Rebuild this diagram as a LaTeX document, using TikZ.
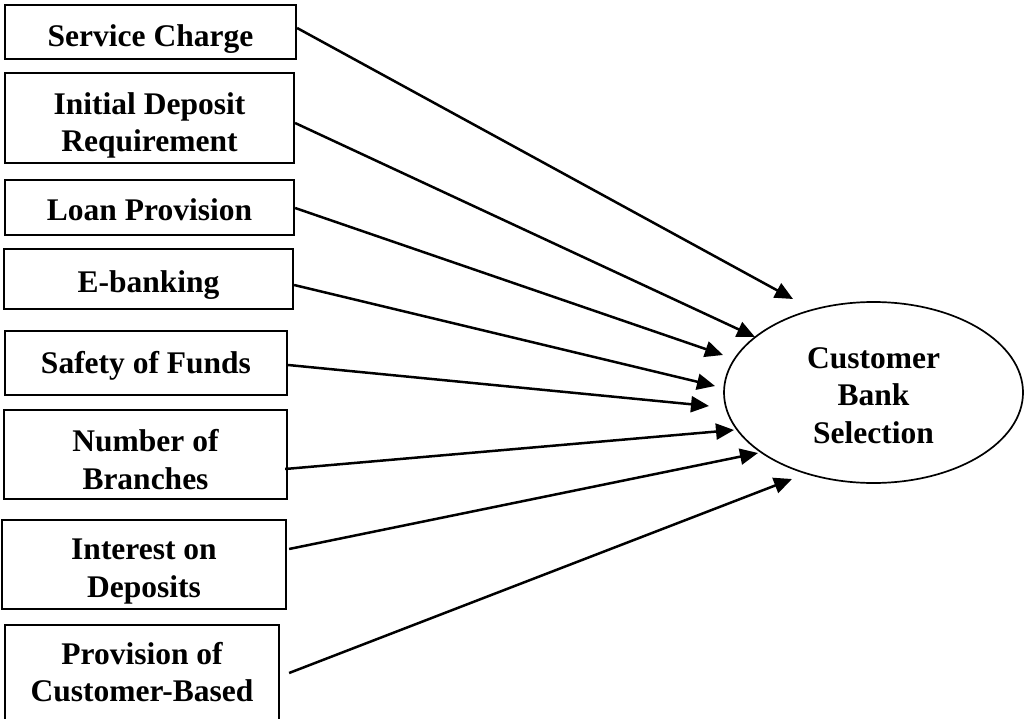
\documentclass[tikz,border=0pt]{standalone}
\usepackage{fontspec}
\setmainfont{Liberation Serif}
\usetikzlibrary{arrows.meta,shapes.geometric}
\begin{document}
\begin{tikzpicture}[x=1pt,y=-1pt,
  lbl/.style={font=\fontsize{31.5}{37.5}\selectfont\bfseries, align=center, inner sep=0pt},
  box/.style={draw, line width=2.2pt, rectangle, inner sep=0pt},
  target/.style={draw, line width=1.7pt, ellipse, inner sep=0pt},
  arr/.style={line width=2.5pt, -{Triangle[length=18pt,width=16pt]}}]
\useasboundingbox (0,0) rectangle (1024,719);
\clip (0,0) rectangle (1024,719);
% factor boxes
\node[box, minimum width=291pt, minimum height=54pt] (b1) at (150.5,32) {};
\node[box, minimum width=289pt, minimum height=90pt] (b2) at (149.5,118) {};
\node[box, minimum width=289pt, minimum height=55pt] (b3) at (149.5,207.5) {};
\node[box, minimum width=289pt, minimum height=60pt] (b4) at (148.5,279) {};
\node[box, minimum width=282pt, minimum height=64pt] (b5) at (146,363) {};
\node[box, minimum width=283pt, minimum height=89pt] (b6) at (145.5,454.5) {};
\node[box, minimum width=284pt, minimum height=89pt] (b7) at (144,564.5) {};
\node[box, minimum width=274pt, minimum height=120pt] (b8) at (142,685) {};
% box texts
\node[lbl] (l1) at ([yshift=-7pt]b1.center) {Service Charge};
\node[lbl] (l2) at ([yshift=-7.5pt]b2.center) {Initial Deposit\\Requirement};
\node[lbl] (l3) at ([yshift=-2pt]b3.center) {Loan Provision};
\node[lbl] (l4) at ([yshift=-6pt]b4.center) {E-banking};
\node[lbl] (l5) at ([yshift=-3pt]b5.center) {Safety of Funds};
\node[lbl] (l6) at ([yshift=-5pt]b6.center) {Number of\\Branches};
\node[lbl] (l7) at ([yshift=-7pt]b7.center) {Interest on\\Deposits};
\node[lbl] (l8) at ([yshift=13pt]b8.center) {Provision of\\Customer-Based};
% outcome
\node[target, minimum width=299pt, minimum height=181pt] (cbs) at (873.5,392.5) {};
\node[lbl] (lc) at ([yshift=-3pt]cbs.center) {Customer\\Bank\\Selection};
% arrow tips
\coordinate (t1) at (793,299);
\coordinate (t2) at (755,337);
\coordinate (t3) at (723,355);
\coordinate (t4) at (715,386);
\coordinate (t5) at (709,406);
\coordinate (t6) at (734,430);
\coordinate (t7) at (758,453);
\coordinate (t8) at (792,479);
% connectors
\draw[arr] ([yshift=4pt]b1.east) -- (t1);
\draw[arr] ([yshift=-5pt]b2.east) -- (t2);
\draw[arr] ([yshift=-0.5pt]b3.east) -- (t3);
\draw[arr] ([yshift=-6pt]b4.east) -- (t4);
\draw[arr] ([yshift=-2pt]b5.east) -- (t5);
\draw[arr] ([xshift=-3pt,yshift=-14.5pt]b6.east) -- (t6);
\draw[arr] ([xshift=2pt,yshift=15.5pt]b7.east) -- (t7);
\draw[arr] ([xshift=9pt,yshift=12pt]b8.east) -- (t8);
\end{tikzpicture}
\end{document}
